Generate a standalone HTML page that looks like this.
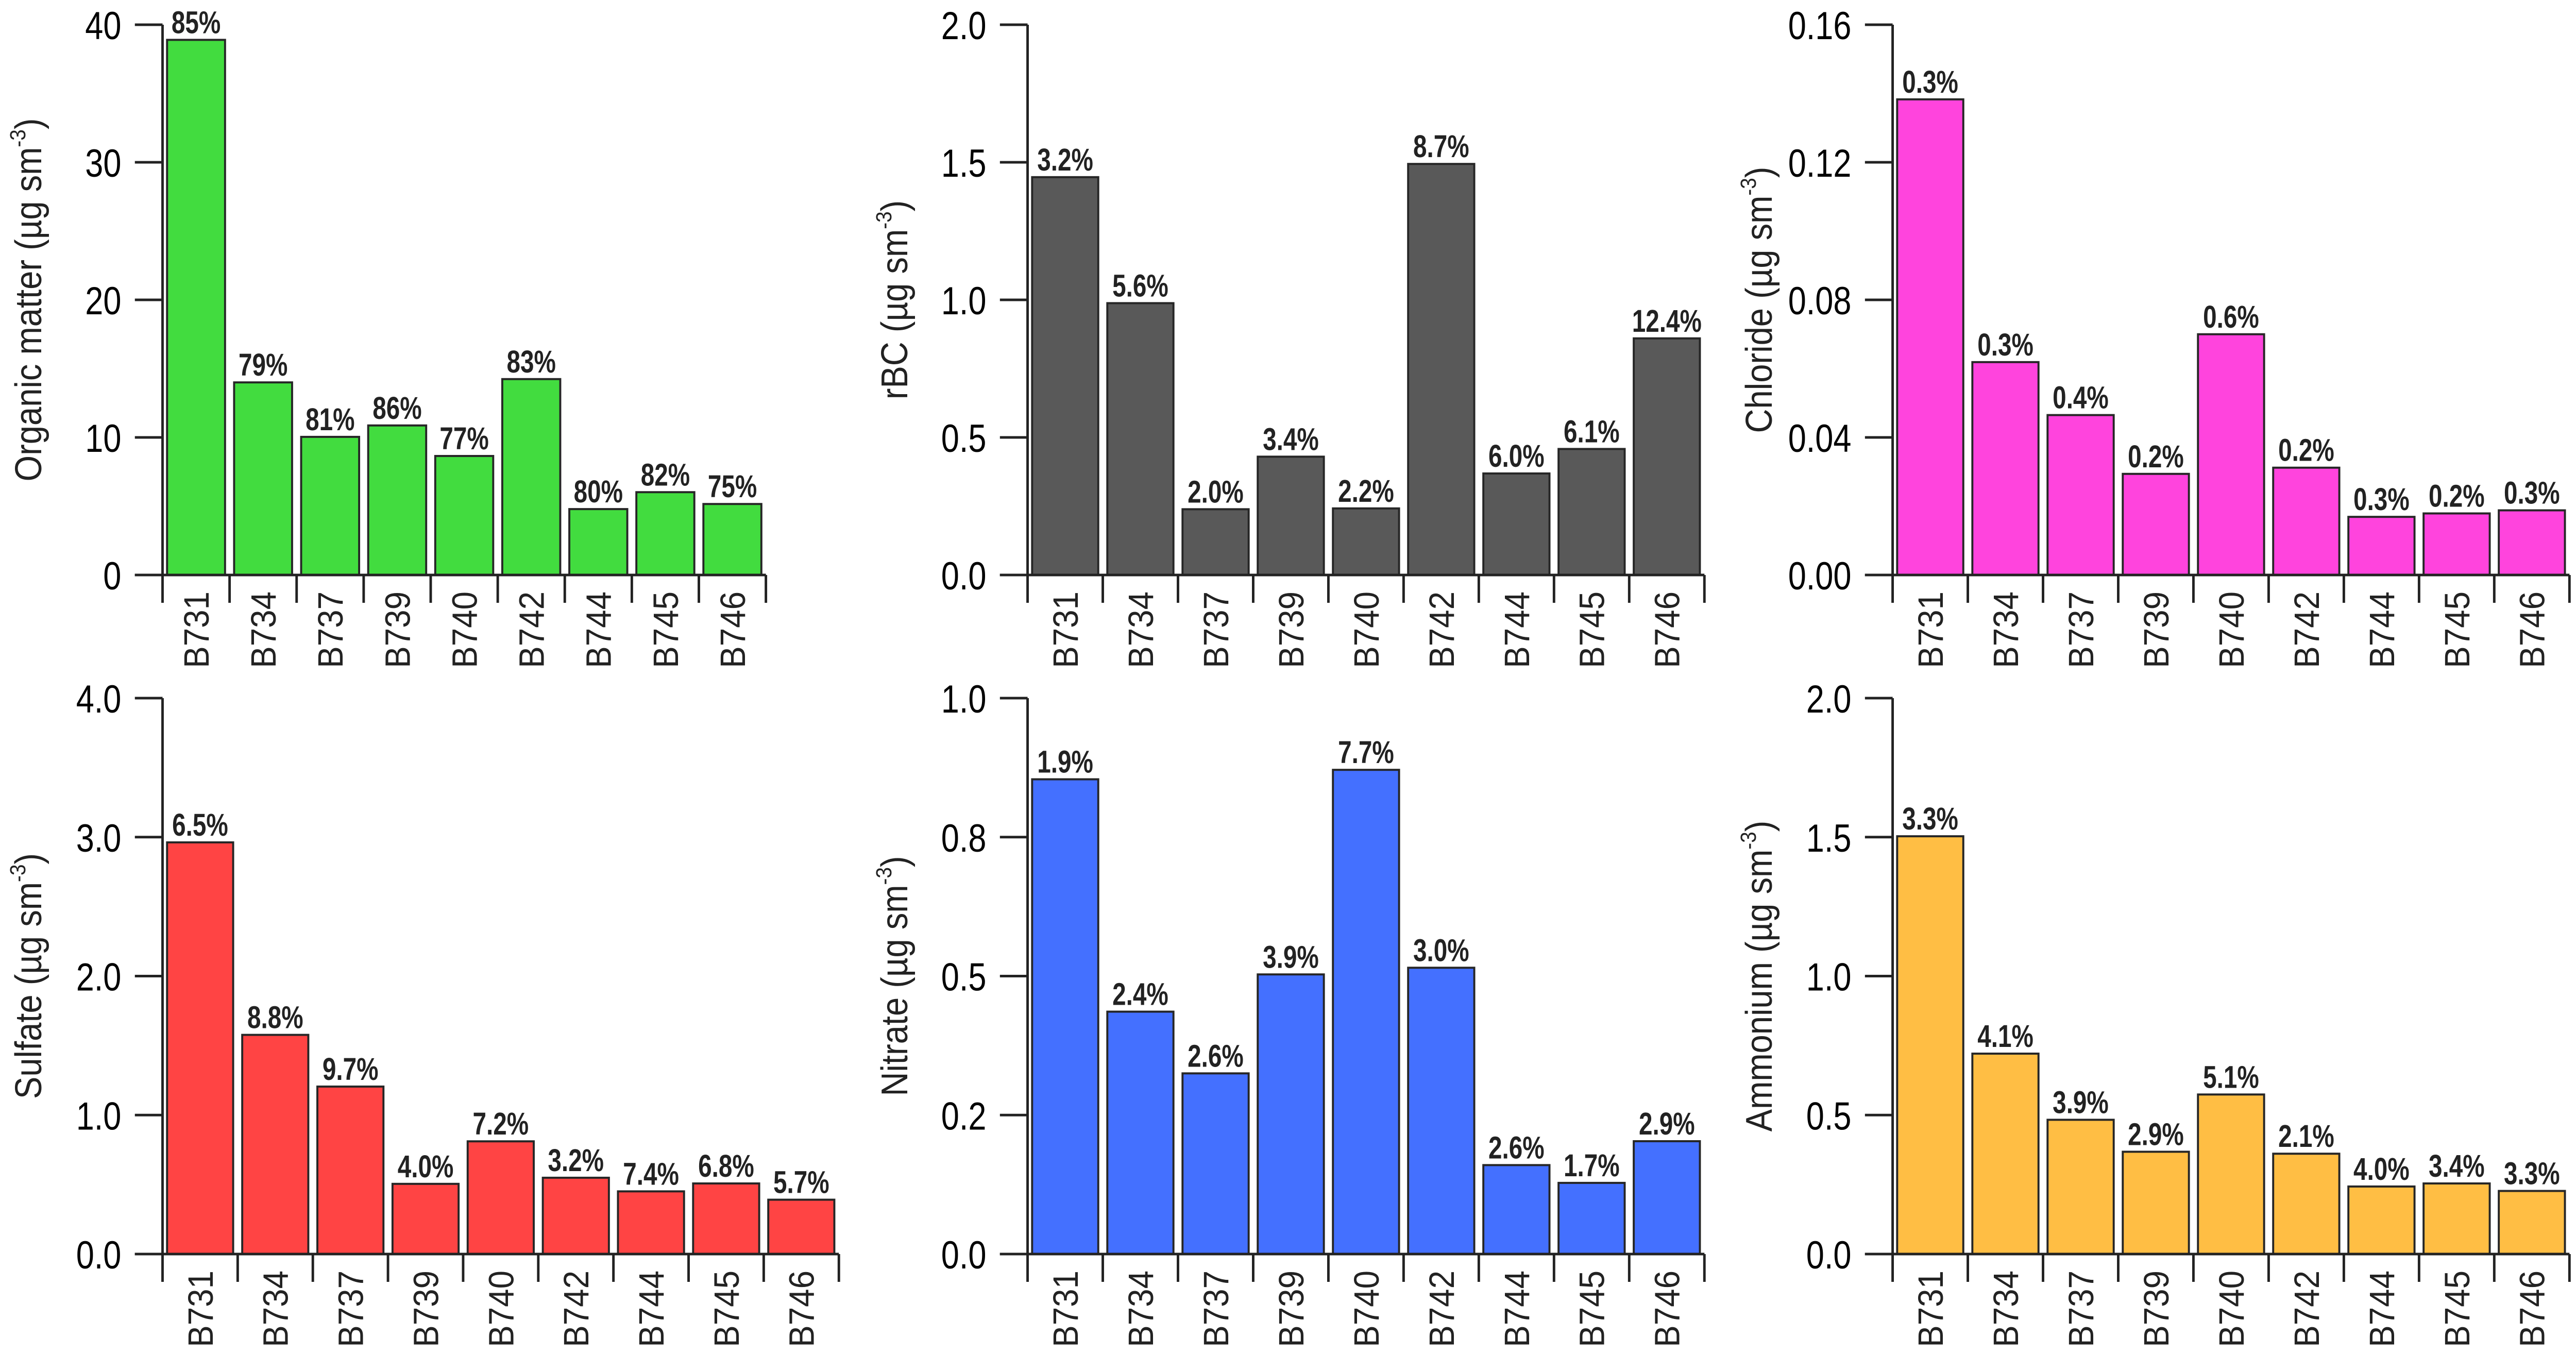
<!DOCTYPE html>
<html><head><meta charset="utf-8"><style>
html,body{margin:0;padding:0;background:#fff;width:100%;height:100%;overflow:hidden}
svg{display:block;width:100vw;height:100vh}
text{font-family:"Liberation Sans",Arial,sans-serif}
</style></head><body>
<svg id="chart" viewBox="0 0 5119 2628" preserveAspectRatio="none" xmlns="http://www.w3.org/2000/svg"></svg>
<script>
const categories = ["B731","B734","B737","B739","B740","B742","B744","B745","B746"];
const omValues = [38.9,14.0,10.04,10.87,8.65,14.24,4.79,6.02,5.16];
const omPct = ["85%","79%","81%","86%","77%","83%","80%","82%","75%"];
const omTicks = ["0","10","20","30","40"];
const rbcValues = [1.446,0.988,0.239,0.430,0.242,1.494,0.369,0.458,0.860];
const rbcPct = ["3.2%","5.6%","2.0%","3.4%","2.2%","8.7%","6.0%","6.1%","12.4%"];
const rbcTicks = ["0.0","0.5","1.0","1.5","2.0"];
const clValues = [0.1383,0.0619,0.0465,0.0294,0.0700,0.0312,0.0169,0.0179,0.0188];
const clPct = ["0.3%","0.3%","0.4%","0.2%","0.6%","0.2%","0.3%","0.2%","0.3%"];
const clTicks = ["0.00","0.04","0.08","0.12","0.16"];
const so4Values = [2.962,1.577,1.205,0.505,0.811,0.549,0.451,0.508,0.391];
const so4Pct = ["6.5%","8.8%","9.7%","4.0%","7.2%","3.2%","7.4%","6.8%","5.7%"];
const so4Ticks = ["0.0","1.0","2.0","3.0","4.0"];
const no3Values = [0.854,0.436,0.325,0.503,0.871,0.515,0.160,0.128,0.203];
const no3Pct = ["1.9%","2.4%","2.6%","3.9%","7.7%","3.0%","2.6%","1.7%","2.9%"];
const no3Ticks = ["0.0","0.2","0.5","0.8","1.0"];
const nh4Values = [1.503,0.721,0.483,0.368,0.574,0.361,0.243,0.254,0.227];
const nh4Pct = ["3.3%","4.1%","3.9%","2.9%","5.1%","2.1%","4.0%","3.4%","3.3%"];
const nh4Ticks = ["0.0","0.5","1.0","1.5","2.0"];
const omMax = 40, rbcMax = 2.0, clMax = 0.16, so4Max = 4.0, no3Max = 1.0, nh4Max = 2.0;

const NS = "http://www.w3.org/2000/svg";
const svg = document.getElementById("chart");
function mk(tag, attrs, parent){
  const e = document.createElementNS(NS, tag);
  for (const k in attrs) e.setAttribute(k, attrs[k]);
  (parent||svg).appendChild(e);
  return e;
}
const panels = [
  {key:"organic-matter", title:"Organic matter", vals:omValues, pct:omPct, ticks:omTicks, max:omMax, color:"#42DC3F", x0:323, x1:1522, yTop:48, yZero:1116, titleX:55},
  {key:"rbc", title:"rBC", vals:rbcValues, pct:rbcPct, ticks:rbcTicks, max:rbcMax, color:"#595959", x0:2042, x1:3387, yTop:48, yZero:1116, titleX:1776},
  {key:"chloride", title:"Chloride", vals:clValues, pct:clPct, ticks:clTicks, max:clMax, color:"#FF44DD", x0:3761, x1:5106, yTop:48, yZero:1116, titleX:3494},
  {key:"sulfate", title:"Sulfate", vals:so4Values, pct:so4Pct, ticks:so4Ticks, max:so4Max, color:"#FF4444", x0:323, x1:1667, yTop:1355, yZero:2434, titleX:55},
  {key:"nitrate", title:"Nitrate", vals:no3Values, pct:no3Pct, ticks:no3Ticks, max:no3Max, color:"#4470FF", x0:2042, x1:3387, yTop:1355, yZero:2434, titleX:1776},
  {key:"ammonium", title:"Ammonium", vals:nh4Values, pct:nh4Pct, ticks:nh4Ticks, max:nh4Max, color:"#FFBE44", x0:3761, x1:5106, yTop:1355, yZero:2434, titleX:3494}
];
panels.forEach(p => {
  const g = mk("g", {});
  
  
  const n = categories.length;
  const slot = (p.x1 - p.x0) / n;
  const yScale = v => p.yZero - (v / p.max) * (p.yZero - p.yTop);
  const xCenter = i => p.x0 + slot * (i + 0.5);
  p.vals.forEach((v, i) => {
    const y = yScale(v);
    const r = mk("rect", {x: xCenter(i) - slot/2 + 9, y: y, width: slot - 18, height: p.yZero - y, fill: p.color, stroke: "#262626", "stroke-width": 4}, g);
    
    
    const t = mk("text", {x: 0, y: 0, "font-size": 61, "font-weight": "bold", fill: "#222", "text-anchor": "middle",
      transform: "translate(" + xCenter(i) + "," + (y - 13) + ") scale(0.8,1)"}, g);
    t.textContent = p.pct[i];
    
    
  });
  const ya = mk("line", {x1: p.x0, y1: p.yTop, x2: p.x0, y2: p.yZero, stroke: "#222", "stroke-width": 5}, g);
  
  
  p.ticks.forEach((lab, k) => {
    const y = p.yZero - k * (p.yZero - p.yTop) / (p.ticks.length - 1);
    const tl = mk("line", {x1: p.x0 - 55, y1: y, x2: p.x0, y2: y, stroke: "#222", "stroke-width": 5}, g);
    
    
    const tt = mk("text", {x: 0, y: 0, "font-size": 76, fill: "#000", "text-anchor": "end",
      transform: "translate(" + (p.x0 - 82) + "," + (y + 28) + ") scale(0.85,1)"}, g);
    tt.textContent = lab;
    
    
  });
  const xa = mk("line", {x1: p.x0 - 55, y1: p.yZero, x2: p.x1, y2: p.yZero, stroke: "#222", "stroke-width": 5}, g);
  
  
  for (let i = 0; i <= n; i++) {
    const x = p.x0 + slot * i;
    const s = mk("line", {x1: x, y1: p.yZero, x2: x, y2: p.yZero + 54, stroke: "#222", "stroke-width": 5}, g);
    
    
  }
  categories.forEach((c, i) => {
    const t = mk("text", {x: 0, y: 0, "font-size": 70, fill: "#222", "text-anchor": "end",
      transform: "translate(" + (xCenter(i) + 25) + "," + (p.yZero + 32) + ") rotate(-90) scale(0.91,1)"}, g);
    t.textContent = c;
    
    
  });
  const cy = (p.yTop + p.yZero) / 2;
  const yt = mk("text", {x: 0, y: 0, "font-size": 74, fill: "#222", "text-anchor": "middle",
    transform: "translate(" + (p.titleX + 27) + "," + cy + ") rotate(-90) scale(0.88,1)"}, g);
  
  
  yt.appendChild(document.createTextNode(p.title + " (µg sm"));
  const sup = mk("tspan", {"font-size": 44, dy: -32}, yt);
  sup.textContent = "-3";
  const cl = mk("tspan", {dy: 32}, yt);
  cl.textContent = ")";
});
</script>
</body></html>
